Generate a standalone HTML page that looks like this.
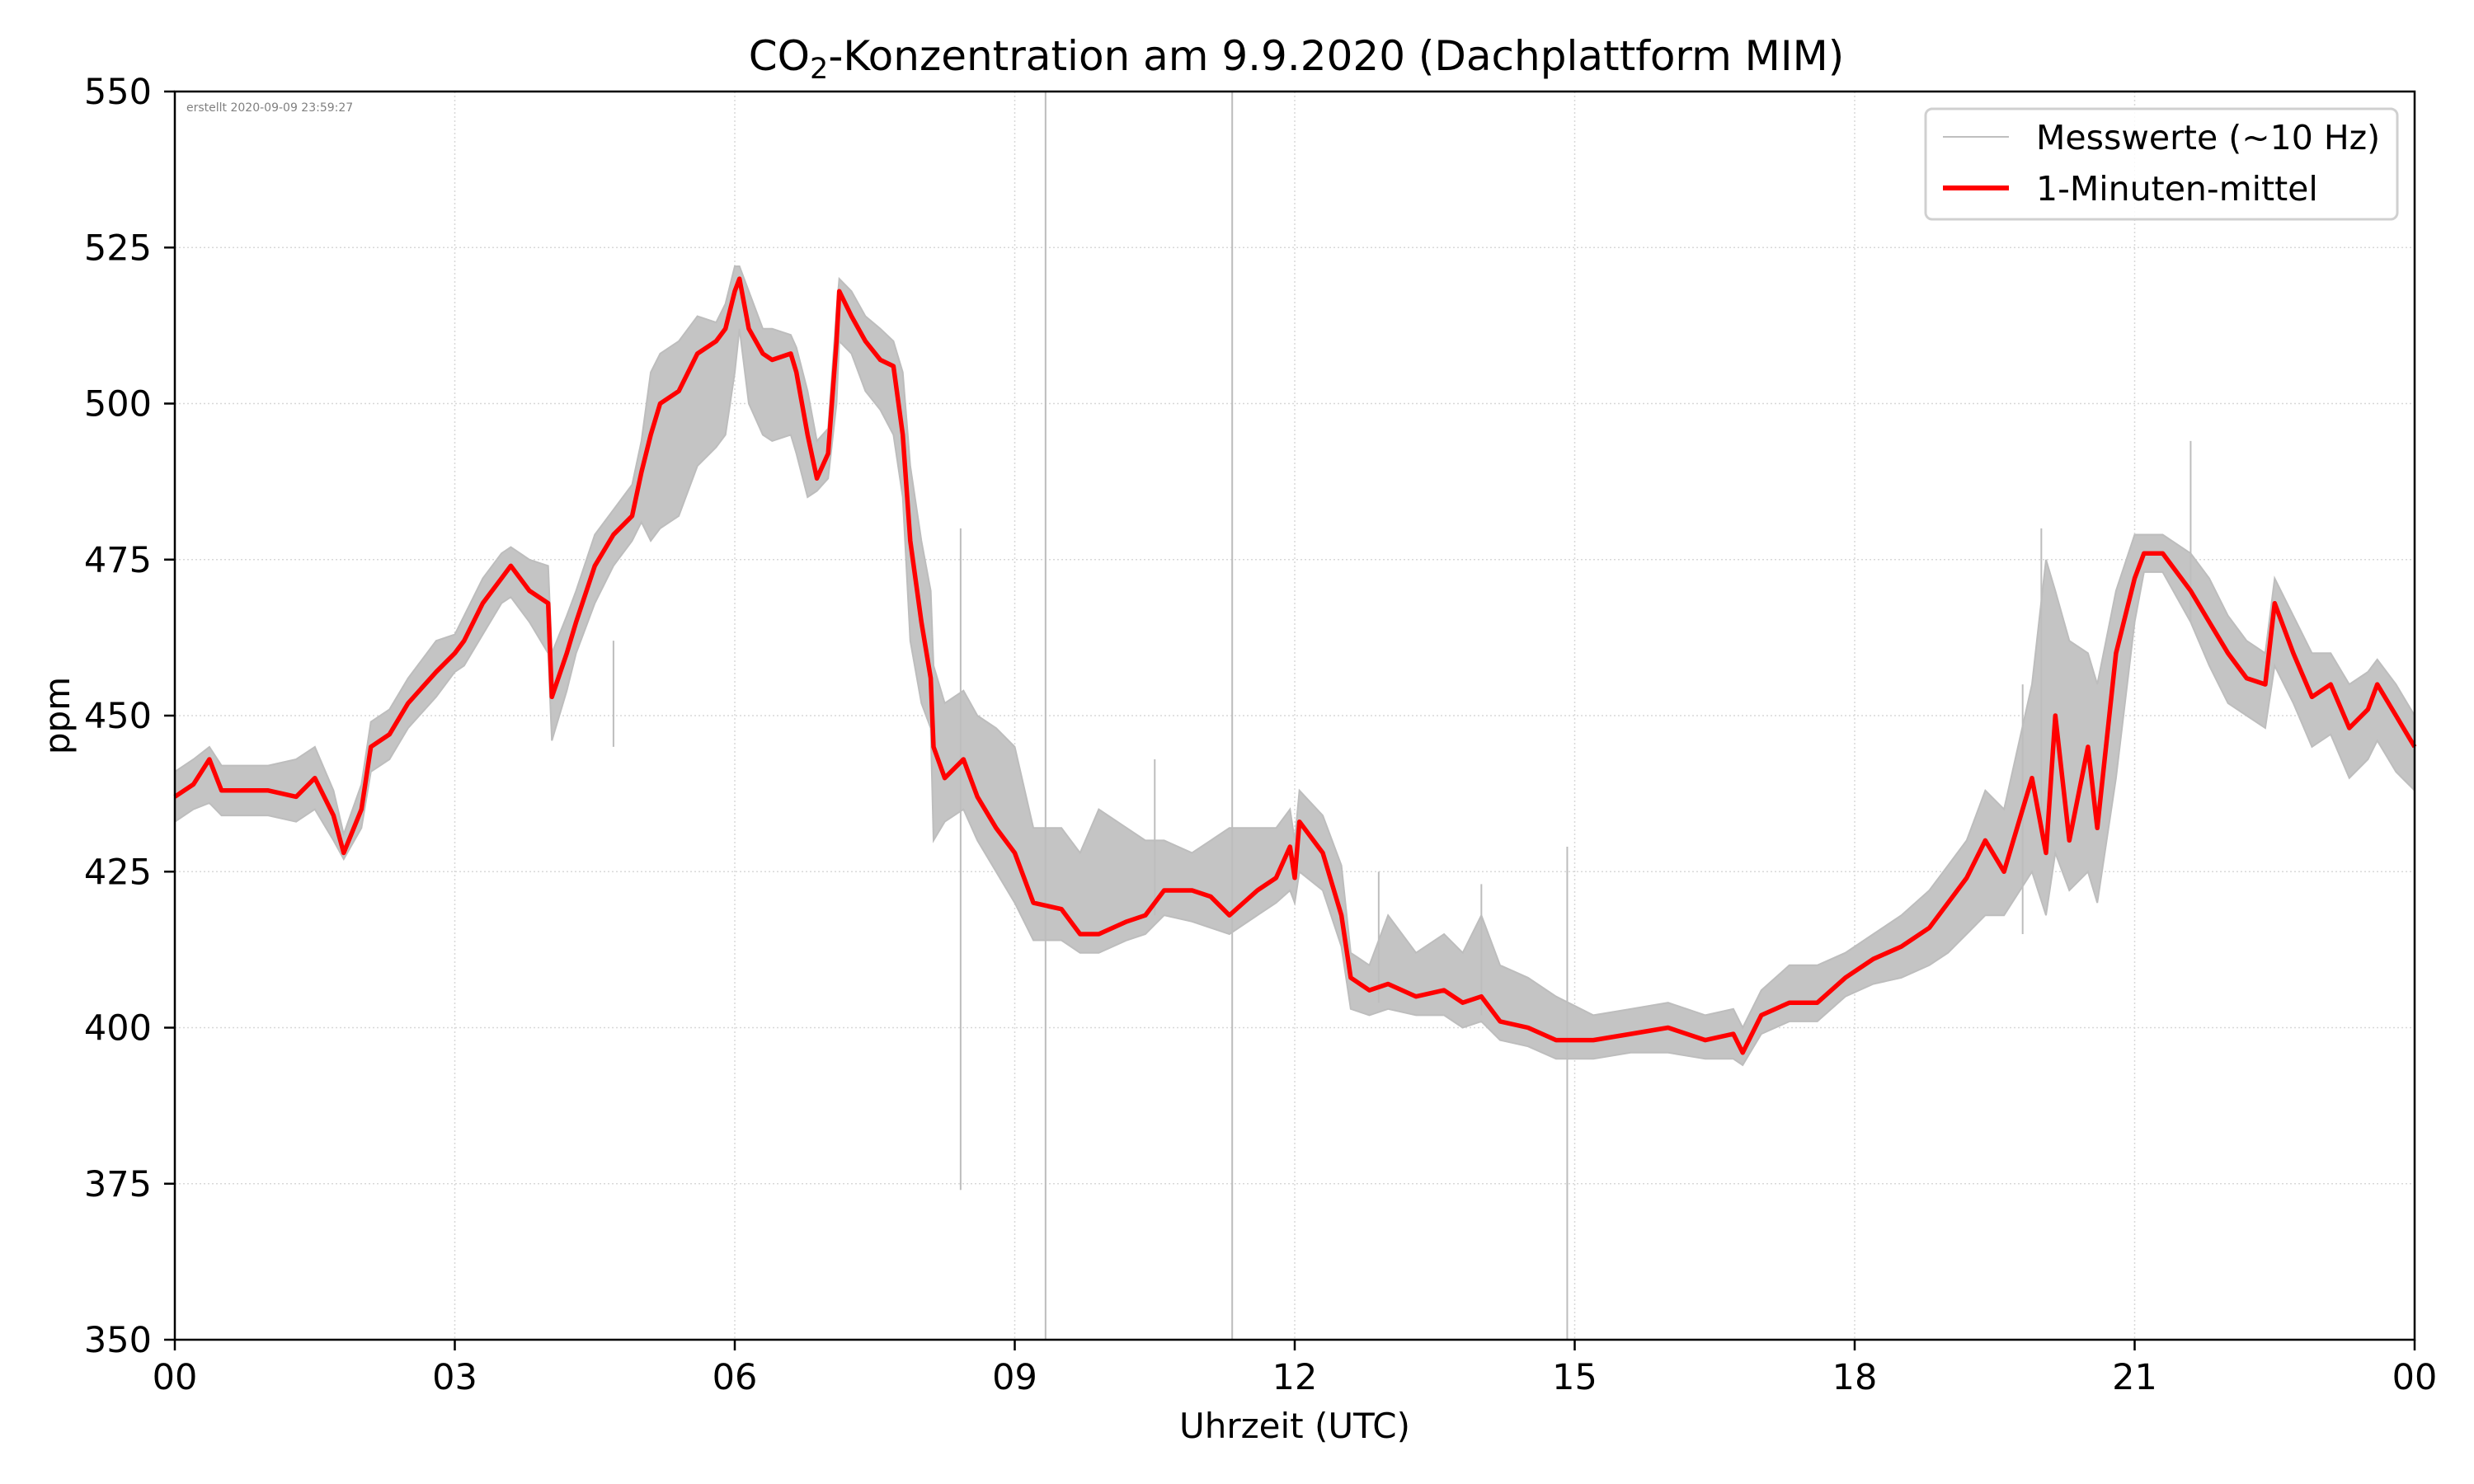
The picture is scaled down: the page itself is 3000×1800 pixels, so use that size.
<!DOCTYPE html>
<html><head><meta charset="utf-8"><style>
html,body{margin:0;padding:0;background:#fff}
svg{display:block;font-family:"DejaVu Sans","Liberation Sans",sans-serif}
</style></head><body>
<svg id="chart" width="3000" height="1800" viewBox="0 0 3000 1800">
<rect width="3000" height="1800" fill="#fff"/>
<g id="grid"></g>
<g id="gray"></g>
<g id="red"></g>
<rect x="212" y="111" width="2716" height="1514" fill="none" stroke="#000" stroke-width="2.5"/>
<g id="ticks"></g>
<text x="226" y="135" font-size="14" fill="#808080">erstellt 2020-09-09 23:59:27</text>
<text x="1572" y="85" font-size="50" text-anchor="middle">CO<tspan font-size="35" dy="10">2</tspan><tspan dy="-10">-Konzentration am 9.9.2020 (Dachplattform MIM)</tspan></text>
<text x="1570" y="1744" font-size="42" text-anchor="middle">Uhrzeit (UTC)</text>
<text x="0" y="0" font-size="42" text-anchor="middle" transform="translate(84,868) rotate(-90)">ppm</text>
<g>
<rect x="2335" y="132" width="572" height="134" rx="8" fill="#fff" fill-opacity="0.85" stroke="#d0d0d0" stroke-width="3"/>
<line x1="2356" y1="166" x2="2436" y2="166" stroke="#bfbfbf" stroke-width="2"/>
<text x="2469" y="181" font-size="41">Messwerte (~10 Hz)</text>
<line x1="2356" y1="228" x2="2436" y2="228" stroke="#ff0000" stroke-width="6"/>
<text x="2469" y="243" font-size="41">1-Minuten-mittel</text>
</g>
</svg>
<script>
const hours=[0,0.2,0.37,0.5,1.0,1.3,1.5,1.7,1.81,2.0,2.1,2.3,2.5,2.8,3.0,3.1,3.3,3.5,3.6,3.8,4.0,4.04,4.2,4.3,4.5,4.7,4.9,5.0,5.1,5.2,5.4,5.6,5.8,5.9,6.0,6.05,6.15,6.3,6.4,6.6,6.66,6.78,6.88,7.0,7.09,7.12,7.25,7.4,7.56,7.7,7.8,7.88,8.0,8.1,8.13,8.25,8.45,8.6,8.8,9.0,9.2,9.5,9.7,9.9,10.2,10.4,10.6,10.9,11.1,11.3,11.6,11.8,11.95,12.0,12.05,12.3,12.5,12.6,12.8,13.0,13.3,13.6,13.8,14.0,14.2,14.5,14.8,15.2,15.6,16.0,16.4,16.7,16.8,17.0,17.3,17.6,17.9,18.2,18.5,18.8,19.0,19.2,19.4,19.6,19.9,20.05,20.15,20.3,20.5,20.6,20.8,21.0,21.1,21.3,21.6,21.8,22.0,22.2,22.4,22.5,22.7,22.9,23.1,23.3,23.5,23.6,23.8,24.0];
const meanVals=[437,439,443,438,438,437,440,434,428,435,445,447,452,457,460,462,468,472,474,470,468,453,460,465,474,479,482,489,495,500,502,508,510,512,518,520,512,508,507,508,505,495,488,492,510,518,514,510,507,506,495,478,465,456,445,440,443,437,432,428,420,419,415,415,417,418,422,422,421,418,422,424,429,424,433,428,418,408,406,407,405,406,404,405,401,400,398,398,399,400,398,399,396,402,404,404,408,411,413,416,420,424,430,425,440,428,450,430,445,432,460,472,476,476,470,465,460,456,455,468,460,453,455,448,451,455,450,445];
const grayLow=[433,435,436,434,434,433,435,430,427,432,441,443,448,453,457,458,463,468,469,465,460,446,454,460,468,474,478,481,478,480,482,490,493,495,505,512,500,495,494,495,492,485,486,488,500,510,508,502,499,495,485,462,452,448,430,433,435,430,425,420,414,414,412,412,414,415,418,417,416,415,418,420,422,420,425,422,413,403,402,403,402,402,400,401,398,397,395,395,396,396,395,395,394,399,401,401,405,407,408,410,412,415,418,418,425,418,428,422,425,420,440,465,473,473,465,458,452,450,448,458,452,445,447,440,443,446,441,438];
const grayHigh=[441,443,445,442,442,443,445,438,431,439,449,451,456,462,463,466,472,476,477,475,474,460,466,470,479,483,487,494,505,508,510,514,513,516,522,522,518,512,512,511,509,502,494,496,515,520,518,514,512,510,505,490,478,470,458,452,454,450,448,445,432,432,428,435,432,430,430,428,430,432,432,432,435,430,438,434,426,412,410,418,412,415,412,418,410,408,405,402,403,404,402,403,400,406,410,410,412,415,418,422,426,430,438,435,455,475,470,462,460,455,470,479,479,479,476,472,466,462,460,472,466,460,460,455,457,459,455,450];
const spikeHours=[4.7,8.42,9.33,11.33,14.92,20.0,21.6,19.8,12.9,14.0,10.5];
const spikeLow=[445,374,350,350,350,430,465,415,404,402,418];
const spikeHigh=[462,480,550,550,429,480,494,455,425,423,443];
const yTicks=[350,375,400,425,450,475,500,525,550];
const xTickHours=[0,3,6,9,12,15,18,21,24];
const xTickLabels=["00","03","06","09","12","15","18","21","00"];

const L=212,R=2928,T=111,B=1625,NS="http://www.w3.org/2000/svg";
function X(h){return L+h/24*(R-L);}
function Y(v){return B-(v-350)/200*(B-T);}
function mk(tag,attrs,parent){const e=document.createElementNS(NS,tag);for(const k in attrs)e.setAttribute(k,attrs[k]);parent.appendChild(e);return e;}
const grid=document.getElementById('grid'),ticks=document.getElementById('ticks'),gray=document.getElementById('gray'),red=document.getElementById('red');
yTicks.forEach(v=>{
  const g=mk('line',{x1:L,x2:R,y1:Y(v),y2:Y(v),stroke:'#d8d8d8','stroke-width':1.5,'stroke-dasharray':'2,3'},grid);
  
  
  const t=mk('line',{x1:L-13,x2:L,y1:Y(v),y2:Y(v),stroke:'#000','stroke-width':2.5},ticks);
  
  
  const tx=mk('text',{x:L-28,y:Y(v)+15,'font-size':43,'text-anchor':'end'},ticks);
  tx.textContent=v;
  
  
});
xTickHours.forEach((h,i)=>{
  const g=mk('line',{x1:X(h),x2:X(h),y1:T,y2:B,stroke:'#d8d8d8','stroke-width':1.5,'stroke-dasharray':'2,3'},grid);
  
  
  const t=mk('line',{x1:X(h),x2:X(h),y1:B,y2:B+13,stroke:'#000','stroke-width':2.5},ticks);
  
  
  const tx=mk('text',{x:X(h),y:B+60,'font-size':43,'text-anchor':'middle'},ticks);
  tx.textContent=xTickLabels[i];
  
  
});
let pts=hours.map((h,i)=>X(h).toFixed(1)+','+Y(grayHigh[i]).toFixed(1));
for(let i=hours.length-1;i>=0;i--)pts.push(X(hours[i]).toFixed(1)+','+Y(grayLow[i]).toFixed(1));
const band=mk('polygon',{points:pts.join(' '),fill:'#c4c4c4',stroke:'#bdbdbd','stroke-width':2},gray);


spikeHours.forEach((h,i)=>{
  const s=mk('line',{x1:X(h),x2:X(h),y1:Y(spikeLow[i]),y2:Y(spikeHigh[i]),stroke:'#bdbdbd','stroke-width':2},gray);
  
  
});
const line=mk('polyline',{points:hours.map((h,i)=>X(h).toFixed(1)+','+Y(meanVals[i]).toFixed(1)).join(' '),fill:'none',stroke:'#ff0000','stroke-width':5.5,'stroke-linejoin':'round'},red);


</script>
</body></html>
